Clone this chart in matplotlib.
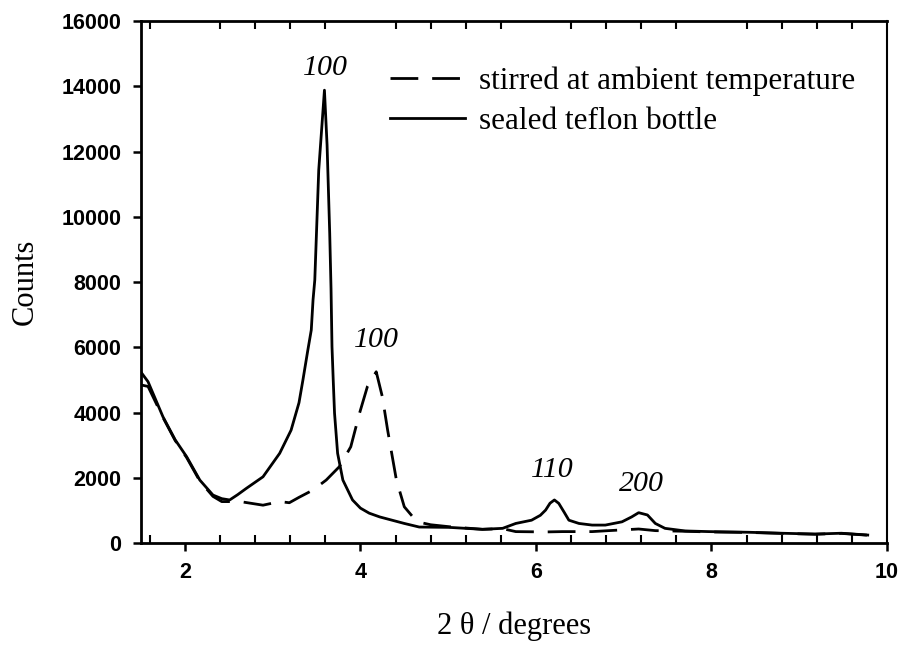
import numpy as np
import matplotlib
matplotlib.use('Agg')
import matplotlib.pyplot as plt
from matplotlib.ticker import MultipleLocator, FixedLocator

# sealed teflon bottle (solid)
x_sealed = [1.51, 1.58, 1.75, 1.89, 2.02, 2.17, 2.32, 2.42, 2.51, 2.60, 2.70, 2.89,
            3.08, 3.21, 3.30, 3.345, 3.40, 3.44, 3.46, 3.48, 3.525, 3.59, 3.62, 3.65,
            3.665, 3.676, 3.69, 3.705, 3.74, 3.80, 3.91, 4.00, 4.10, 4.22, 4.36, 4.50,
            4.67, 5.01, 5.39, 5.62, 5.77, 5.95, 6.05, 6.11, 6.16, 6.21, 6.26, 6.32,
            6.375, 6.49, 6.64, 6.79, 6.98, 7.09, 7.17, 7.27, 7.36, 7.47, 7.70, 7.97,
            8.42, 8.80, 9.18, 9.48, 9.78]
y_sealed = [5200, 4945, 3870, 3160, 2645, 1930, 1470, 1360, 1320, 1480, 1675, 2030,
            2750, 3460, 4300, 5000, 5900, 6530, 7450, 8060, 11430, 13880, 12200, 9500,
            7800, 6020, 5000, 3980, 2750, 1930, 1320, 1070, 915, 800, 700, 600,
            490, 480, 420, 450, 600, 700, 850, 1010, 1220, 1320, 1215, 950,
            700, 600, 550, 550, 650, 800, 930, 860, 600, 450, 370, 350,
            330, 300, 275, 300, 245]

# stirred at ambient temperature (dashed)
x_stirred = [1.51, 1.58, 1.75, 1.89, 2.02, 2.17, 2.32, 2.42, 2.63, 2.89, 3.08, 3.19,
             3.30, 3.46, 3.61, 3.76, 3.89, 3.99, 4.08, 4.18, 4.25, 4.31, 4.41, 4.50,
             4.61, 4.70, 4.80, 5.01, 5.39, 5.62, 5.77, 6.11, 6.30, 6.64, 6.83, 7.17,
             7.36, 7.70, 7.97, 8.42, 8.80, 9.18, 9.48, 9.78]
y_stirred = [4840, 4800, 3850, 3140, 2620, 1900, 1430, 1270, 1270, 1160, 1270, 1235,
             1400, 1625, 1930, 2340, 2950, 3980, 4800, 5250, 4480, 3460, 1930, 1110,
             760, 620, 560, 500, 420, 440, 350, 340, 350, 350, 380, 430,
             380, 360, 340, 325, 295, 270, 295, 240]

# peak labels
peak_labels = ['100', '100', '110', '200']
peak_x = [3.60, 4.18, 6.19, 7.20]
peak_y = [14570, 6220, 2240, 1810]

serif = 'Liberation Serif'
sans = 'Liberation Sans'

fig = plt.figure(figsize=(9.01, 6.47), dpi=100)
ax = fig.add_axes([0.1565, 0.1607, 0.828, 0.8068])

ax.plot(x_stirred, y_stirred, color='black', lw=2.0, dashes=(10, 5),
        label='stirred at ambient temperature')
ax.plot(x_sealed, y_sealed, color='black', lw=2.0, label='sealed teflon bottle')

for t, px, py in zip(peak_labels, peak_x, peak_y):
    ax.text(px, py, t, fontfamily=serif, fontstyle='italic', fontsize=21.5,
            ha='center', va='center')

ax.set_xlim(1.5, 10)
ax.set_ylim(0, 16000)
ax.xaxis.set_major_locator(FixedLocator([2, 4, 6, 8, 10]))
ax.xaxis.set_minor_locator(FixedLocator(np.arange(1.6, 10.0, 0.4)))
ax.yaxis.set_major_locator(MultipleLocator(2000))

ax.tick_params(which='major', axis='x', direction='out', length=6, width=1.8,
               top=False, pad=8)
ax.tick_params(which='minor', axis='x', direction='in', length=6, width=1.5,
               top=True, bottom=True)
ax.tick_params(axis='y', direction='out', length=6, width=1.8, right=False, pad=8)

for lab in ax.get_xticklabels() + ax.get_yticklabels():
    lab.set_fontfamily(sans)
    lab.set_fontweight('bold')
    lab.set_fontsize(15.5)

for side in ['left', 'bottom', 'top']:
    ax.spines[side].set_linewidth(2.0)
ax.spines['right'].set_linewidth(1.5)

ax.set_xlabel('2 θ / degrees', fontfamily=serif, fontsize=22, labelpad=20)
ax.set_ylabel('Counts', fontfamily=serif, fontsize=22, labelpad=16)

ax.legend(loc='upper left', bbox_to_anchor=(0.334, 0.913), frameon=False,
          prop={'family': serif, 'size': 22.5}, handlelength=2.4,
          handletextpad=0.45, labelspacing=0.35, borderpad=0, borderaxespad=0)

fig.savefig('out.png', dpi=100)
